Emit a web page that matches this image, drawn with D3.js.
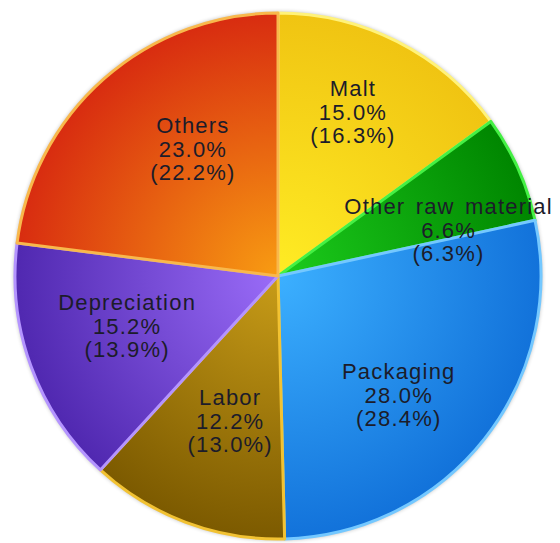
<!DOCTYPE html>
<html>
<head>
<meta charset="utf-8">
<script src="https://cdn.jsdelivr.net/npm/d3@7"></script>
<style>
  body { margin: 0; background: #fff; }
  svg { display: block; }
</style>
</head>
<body>
<svg id="chart" width="560" height="543"></svg>
<script>
// cost shares, current and (previous) in brackets
var categories = ['Malt', 'Other raw material', 'Packaging', 'Labor', 'Depreciation', 'Others'];
var shares = [15.0, 6.6, 28.0, 12.2, 15.2, 23.0];
var previous = [16.3, 6.3, 28.4, 13.0, 13.9, 22.2];

// colours: gradient centre, gradient rim, edge
var innerColors = ['#ffec24', '#1ccc1c', '#3cb0ff', '#c89c18', '#9a6cf8', '#f89c12'];
var outerColors = ['#f0c412', '#008600', '#1272da', '#7c5a00', '#5028b0', '#d82c10'];
var edgeColors = ['#fff27a', '#44f044', '#74c8ff', '#f2c232', '#b494ff', '#f8b84c'];

// small hand nudges so labels sit where the original put them
var labelNudge = [[0, -17], [20, 21], [-9, 17], [10, -10], [4, -7], [24, -3]];

var cx = 278, cy = 276, radius = 263;

var svg = d3.select('#chart');
var defs = svg.append('defs');

// soft shadow round the pie
var shadow = defs.append('filter').attr('id', 'shadow')
  .attr('x', '-10%').attr('y', '-10%').attr('width', '120%').attr('height', '120%');
shadow.append('feGaussianBlur').attr('in', 'SourceAlpha').attr('stdDeviation', 2.5);
shadow.append('feComponentTransfer').append('feFuncA').attr('type', 'linear').attr('slope', 0.45);
var merge = shadow.append('feMerge');
merge.append('feMergeNode');
merge.append('feMergeNode').attr('in', 'SourceGraphic');

categories.forEach(function(c, i) {
  var g = defs.append('radialGradient')
    .attr('id', 'grad' + i)
    .attr('gradientUnits', 'userSpaceOnUse')
    .attr('cx', 0).attr('cy', 0).attr('r', radius);
  g.append('stop').attr('offset', '0%').attr('stop-color', innerColors[i]);
  g.append('stop').attr('offset', '100%').attr('stop-color', outerColors[i]);
});

var data = categories.map(function(c, i) {
  return { name: c, value: shares[i], prev: previous[i], i: i };
});

var pie = d3.pie()
  .value(function(d) { return d.value; })
  .sort(null)
  .startAngle(0)
  .endAngle(2 * Math.PI);

var arc = d3.arc().innerRadius(0).outerRadius(radius);
var labelArc = d3.arc().innerRadius(165).outerRadius(165);

var root = svg.append('g').attr('transform', 'translate(' + cx + ',' + cy + ')');

// shadow disc underneath
root.append('circle').attr('r', radius).attr('fill', '#fff').attr('filter', 'url(#shadow)');

var arcs = pie(data);

root.selectAll('path.slice')
  .data(arcs)
  .enter().append('path')
  .attr('class', 'slice')
  .attr('d', arc)
  .attr('fill', function(d) { return 'url(#grad' + d.data.i + ')'; })
  .attr('stroke', function(d) { return edgeColors[d.data.i]; })
  .attr('stroke-width', 3)
  .attr('stroke-linejoin', 'round');

// labels: name, share, (previous share)
var labels = root.selectAll('text.label')
  .data(arcs)
  .enter().append('text')
  .attr('class', 'label')
  .attr('transform', function(d) {
    var p = labelArc.centroid(d);
    var n = labelNudge[d.data.i];
    return 'translate(' + (p[0] + n[0]) + ',' + (p[1] + n[1]) + ')';
  })
  .attr('text-anchor', 'middle')
  .style('font-family', '"Liberation Sans", Arial, sans-serif')
  .style('font-size', '22px')
  .style('letter-spacing', '1.2px')
  .style('word-spacing', '3px')
  .attr('fill', '#1c1c2a');

labels.append('tspan').attr('x', 0).attr('y', -16)
  .text(function(d) { return d.data.name; });
labels.append('tspan').attr('x', 0).attr('y', 8)
  .text(function(d) { return d.data.value.toFixed(1) + '%'; });
labels.append('tspan').attr('x', 0).attr('y', 31)
  .text(function(d) { return '(' + d.data.prev.toFixed(1) + '%)'; });
</script>
</body>
</html>
